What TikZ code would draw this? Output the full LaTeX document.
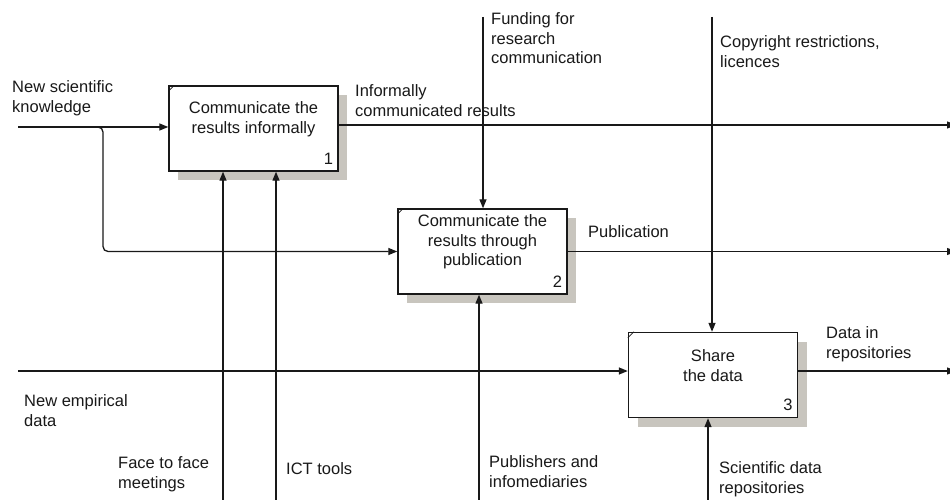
\documentclass[tikz,border=0pt]{standalone}
\usepackage{fontspec}
\setmainfont{Liberation Sans}
\usetikzlibrary{arrows.meta,calc}

\definecolor{ink}{RGB}{25,25,25}
\definecolor{dropgray}{RGB}{200,197,190}

\tikzset{
  procbox/.style={draw=ink, line width=1.4pt, fill=white, inner sep=0pt,
                  minimum width=169pt, minimum height=85pt},
  boxtext/.style={inner sep=0pt, align=center, text=ink, anchor=north,
                  font=\fontsize{16.5}{19.5}\selectfont},
  lbl/.style={inner sep=0pt, align=left, text=ink, anchor=north west,
              font=\fontsize{16.5}{19.5}\selectfont},
  numlbl/.style={inner sep=0pt, text=ink, anchor=base east,
                 font=\fontsize{16.5}{19.5}\selectfont},
  flow/.style={draw=ink, line width=1.3pt,
               -{Triangle[length=9pt,width=7pt]}}
}

% activity box with drop shadow and corner notch
\newcommand{\actbox}[3]{%
  \fill[dropgray] ($(#2)+(-84.5+9,-42.5+9)$) rectangle ($(#2)+(84.5+9,42.5+9)$);
  \node[procbox] (#1) at (#2) {};
  \draw[ink, line width=0.8pt] ($(#1.north west)+(0,6)$) -- ($(#1.north west)+(6,0)$);
  \node[numlbl] at ($(#1.south east)+(-5.5,-7.5)$) {#3};
}

\begin{document}
\begin{tikzpicture}[x=1pt, y=-1pt]
  \clip (0,0) rectangle (950,500);
  \fill[white] (0,0) rectangle (950,500);

  % activities
  \actbox{b1}{253.5,128.5}{1}
  \actbox{b2}{482.5,251.5}{2}
  \actbox{b3}{713,375}{3}

  \node[boxtext] (t1) at (253.5,101.4) {Communicate the\\results informally};
  \node[boxtext] (t2) at (482.5,214.4) {Communicate the\\results through\\publication};
  \node[boxtext] (t3) at (713,349.4) {Share\\the data};

  % free ends of the arrows
  \coordinate (nsk) at (18,127);
  \coordinate (br) at (103,127);
  \coordinate (ned) at (18,371);
  \coordinate (o1) at (956,125);
  \coordinate (o2) at (956,251.5);
  \coordinate (o3) at (956,371);
  \coordinate (fund) at (483,17);
  \coordinate (copy) at (712,17);
  \coordinate (f2f) at (223,505);
  \coordinate (ict) at (276,505);
  \coordinate (pub) at (479,505);
  \coordinate (sdr) at (708,505);

  % inputs
  \draw[flow] (nsk) -- (nsk -| b1.west);
  \draw[flow, rounded corners=5pt] ($(br)+(-8,0)$) -- (br) -- (br |- b2.west) -- (b2.west);
  \draw[flow] (ned) -- (ned -| b3.west);

  % outputs
  \draw[flow] (o1 -| b1.east) -- (o1);
  \draw[flow] (o2 -| b2.east) -- (o2);
  \draw[flow] (o3 -| b3.east) -- (o3);

  % controls
  \draw[flow] (fund) -- (fund |- b2.north);
  \draw[flow] (copy) -- (copy |- b3.north);

  % mechanisms
  \draw[flow] (f2f) -- (f2f |- b1.south);
  \draw[flow] (ict) -- (ict |- b1.south);
  \draw[flow] (pub) -- (pub |- b2.south);
  \draw[flow] (sdr) -- (sdr |- b3.south);

  % labels
  \node[lbl] (l1) at (12,80.4) {New scientific\\knowledge};
  \node[lbl] (l2) at (355,84.4) {Informally\\communicated results};
  \node[lbl] (l3) at (491,12.4) {Funding for\\research\\communication};
  \node[lbl] (l4) at (720,35.4) {Copyright restrictions,\\licences};
  \node[lbl] (l5) at (588,225.4) {Publication};
  \node[lbl] (l6) at (826,326.4) {Data in\\repositories};
  \node[lbl] (l7) at (24,394.4) {New empirical\\data};
  \node[lbl] (l8) at (118,456.4) {Face to face\\meetings};
  \node[lbl] (l9) at (286,462.4) {ICT tools};
  \node[lbl] (l10) at (489,455.4) {Publishers and\\infomediaries};
  \node[lbl] (l11) at (719,461.4) {Scientific data\\repositories};
\end{tikzpicture}
\end{document}
